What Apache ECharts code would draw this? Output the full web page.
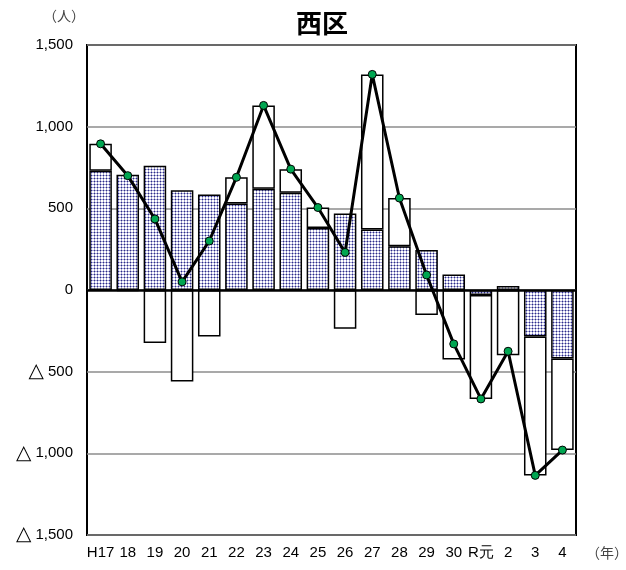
<!DOCTYPE html>
<html>
<head>
<meta charset="utf-8">
<script src="https://cdn.jsdelivr.net/npm/echarts@6/dist/echarts.min.js"></script>
<style>
html, body { margin: 0; padding: 0; background: #fff; }
#main { width: 626px; height: 570px; }
</style>
</head>
<body>
<div id="main"></div>
<script>
var years = ['H17', '18', '19', '20', '21', '22', '23', '24', '25', '26', '27', '28', '29', '30', 'R元', '2', '3', '4'];
// dotted bars
var natural = [730, 705, 760, 610, 585, 530, 620, 595, 380, 468, 370, 268, 245, 95, -30, 25, -285, -420];
// white bars
var social = [165, -5, -325, -560, -285, 160, 510, 145, 125, -238, 950, 295, -153, -425, -637, -400, -850, -560];
// line
var total = [895, 700, 435, 50, 300, 690, 1130, 740, 505, 230, 1320, 563, 92, -330, -667, -375, -1135, -980];

// dot pattern for the blue bars
function makePattern() {
    var c = document.createElement('canvas');
    c.width = 3;
    c.height = 3;
    var ctx = c.getContext('2d');
    ctx.fillStyle = '#ffffff';
    ctx.fillRect(0, 0, 3, 3);
    ctx.fillStyle = '#a4a4d4';
    ctx.fillRect(0, 1, 3, 1);
    ctx.fillRect(1, 0, 1, 3);
    ctx.fillStyle = '#2c2c84';
    ctx.fillRect(1, 1, 1, 1);
    return c;
}

function fmt(v) {
    var s = Math.abs(v).toString().replace(/\B(?=(\d{3})+(?!\d))/g, ',');
    return v < 0 ? '{t|△} ' + s : s;
}

var myChart = echarts.init(document.getElementById('main'));
var font = 'Liberation Sans, Arial, sans-serif';

var option = {
    animation: false,
    title: {
        text: '西区',
        left: 291,
        top: 5,
        textStyle: { fontSize: 26, fontWeight: 'bold', color: '#000', fontFamily: 'Noto Sans CJK JP' }
    },
    grid: {
        left: 87, right: 50, top: 45, bottom: 35,
        show: true, borderColor: '#000', borderWidth: 2, backgroundColor: 'transparent'
    },
    graphic: [
        { type: 'text', left: 43, top: 9, style: { text: '（人）', fill: '#444', font: '14px Noto Sans CJK JP' } },
        { type: 'text', left: 586, top: 546, style: { text: '（年）', fill: '#444', font: '14px Noto Sans CJK JP' } }
    ],
    xAxis: {
        type: 'category',
        data: years,
        axisLine: { show: false, onZero: false },
        axisTick: { show: false },
        axisLabel: { color: '#000', fontSize: 15, fontFamily: font, margin: 10, interval: 0 }
    },
    yAxis: {
        type: 'value',
        min: -1500,
        max: 1500,
        interval: 500,
        axisLine: { show: false },
        axisTick: { show: false },
        axisLabel: {
            color: '#000', fontSize: 15, fontFamily: font, margin: 14, formatter: fmt,
            rich: { t: { fontSize: 20, fontFamily: 'DejaVu Sans', color: '#000' } }
        },
        splitLine: { lineStyle: { color: '#8c8c8c', width: 1.5 } }
    },
    series: [
        {
            name: 'natural',
            type: 'bar',
            stack: 'a',
            data: natural,
            barCategoryGap: '17%',
            itemStyle: {
                color: { image: makePattern(), repeat: 'repeat' },
                borderColor: '#000',
                borderWidth: 1.5
            },
            markLine: {
                silent: true,
                symbol: 'none',
                label: { show: false },
                lineStyle: { color: '#000', type: 'solid', width: 2.5 },
                data: [{ yAxis: 0 }]
            }
        },
        {
            name: 'social',
            type: 'bar',
            stack: 'a',
            data: social,
            itemStyle: { color: '#fff', borderColor: '#000', borderWidth: 1.5 }
        },
        {
            name: 'total',
            type: 'line',
            data: total,
            z: 5,
            symbol: 'circle',
            symbolSize: 8,
            lineStyle: { color: '#000', width: 3 },
            itemStyle: { color: '#00a651', borderColor: '#000', borderWidth: 1 }
        }
    ]
};

myChart.setOption(option);
</script>
</body>
</html>
